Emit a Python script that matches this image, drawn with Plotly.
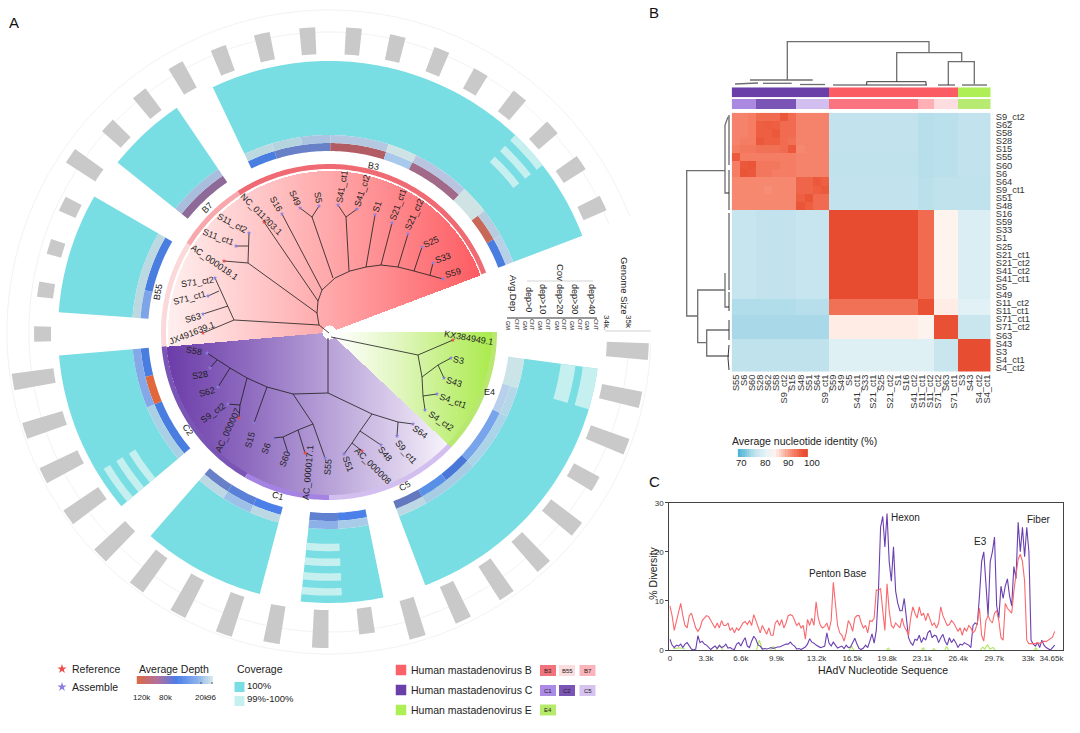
import numpy as np
import plotly.graph_objects as go

FONT = "Liberation Sans"

# ---------- Panel A: sectors ----------
sector_start = [-25.4, -51.3, -85.8, -130.0, -165.2, -191.6, 97.8]
sector_end = [69.2, -34.2, -60.0, -95.0, -138.8, -174.0, 159.2]
depth_colors = [
    ["#4a7de0", "#6880c8", "#6880c8", "#b25c64", "#b25c64", "#a8c8ec", "#a06a88", "#a06a88", "#cfe2e4", "#c86858", "#4a7de0"],
    ["#8e6a98", "#8e6a98"],
    ["#7ea4e8", "#4a7de0", "#4a7de0"],
    ["#4a7de0", "#4a7de0", "#e0683c", "#4a7de0"],
    ["#4a80e8", "#5a80d8", "#6880c8"],
    ["#4a80e8", "#6080d0"],
    ["#cae4e8", "#b8d0ec", "#78a4ec", "#78a4ec", "#4a78d8", "#5890e8", "#6478c0"],
]
cover_colors = [
    ["#bcd8e0", "#b4d4e0", "#aac4e2", "#b4c8e2", "#b4c8e2", "#cfe2e4", "#b8c4e0", "#b8c4e0", "#cfe2e4", "#b8cce0", "#b8d0e8"],
    ["#a8bedc", "#a8bedc"],
    ["#bcd8e0", "#bcd8e0", "#bcd8e0"],
    ["#aad0e6", "#aad0e6", "#84a8e8", "#84a8e8"],
    ["#bcd8e4", "#9cc0e8", "#bcd8e4"],
    ["#a8cce8", "#8cb0e8"],
    ["#cae4e8", "#b4d8e8", "#acd4e8", "#acd4e8", "#a8cce4", "#a8cce4", "#bcd8e4"],
]
# (sector, sample, track) cells below 100 % coverage
partial_sector = [0, 0, 0, 3, 3, 3, 5, 5, 5, 5, 6, 6, 6, 6]
partial_sample = [8, 8, 8, 0, 0, 0, 1, 1, 1, 1, 0, 0, 0, 0]
partial_track = [5, 7, 9, 4, 6, 8, 2, 4, 6, 8, 5, 6, 8, 9]

genome_theta = [-81.6, -73, -64.3, -55.7, -47, -38.5, -29.9, -21.3, -12.7, -4.1, 4.7, 13.1, 21.8, 30.3, 38.9, 47.5,
                56.1, 64.8, 93.5, 102.3, 111.1, 119.7, 128.5, 137.5, 146, 155, 163.8, 172.8, 181.6, 190.5, 199.2,
                208.2, 217, 225.7, 234.6, 243.3, 252, 261, 269.6]
genome_kb = [33.73, 33.68, 33.82, 34.59, 34.14, 34.23, 34.36, 34.23, 34.27, 34.23, 34.23, 34.18, 34.18, 34.05, 34.18,
             34.14, 34.18, 34.14, 34.91, 34.86, 34.86, 34.32, 34.77, 34.82, 34.82, 34.82, 34.82, 34.18, 34.73, 34.73,
             34.91, 34.91, 34.91, 34.91, 34.91, 34.91, 34.91, 34.91, 33.77]

band_start = [-97, -58, -33, -150, -180, -227, 90]
band_end = [-58, -33, 69.3, -95, -150, -180, 133.3]
band_color = ["#fbd9da", "#f8a8ad", "#ef6a72", "#7b55b5", "#a583e2", "#d2bff0", "#b8e870"]

# ---------- Panel A: tree ----------
tree_red = [
    [(329, 333), (319, 325), (317, 313), (318, 301), (322, 290), (335, 278), (350, 271), (366, 267), (381, 265), (398, 267), (414, 271), (430, 275), (443, 279)],
    [(333, 278), (312, 217), (300, 208)], [(312, 217), (319, 206)],
    [(322, 290), (282, 214)], [(318, 301), (264, 222)],
    [(317, 313), (248, 263), (249, 233)], [(248, 246), (236, 246)], [(248, 263), (224, 261)],
    [(319, 325), (234, 320), (203, 333)], [(234, 320), (215, 278)], [(228, 306), (203, 314)], [(219, 291), (208, 296)],
    [(349, 271), (346, 217), (338, 205)], [(346, 217), (357, 209)],
    [(366, 267), (375, 215)], [(381, 265), (392, 223)], [(398, 267), (408, 234)], [(414, 271), (422, 247)], [(430, 275), (433, 263)],
]
tree_purple = [
    [(328, 338), (328, 393)],
    [(328, 393), (293, 394), (267, 387), (247, 378), (230, 368), (217, 360), (207, 353)],
    [(217, 360), (210, 368)], [(230, 368), (218, 387)],
    [(247, 378), (240, 405), (239, 418)], [(240, 405), (228, 404)], [(267, 387), (254, 423)],
    [(293, 394), (313, 424), (325, 458)],
    [(313, 424), (298, 430), (283, 437), (273, 438)], [(283, 437), (288, 453)], [(298, 430), (305, 453)],
    [(328, 393), (372, 414), (398, 422), (413, 424)], [(398, 422), (397, 436)],
    [(372, 414), (360, 431), (381, 445)], [(360, 431), (352, 443), (362, 451)], [(352, 443), (344, 454)],
]
tree_green = [
    [(331, 337), (418, 355), (453, 340)],
    [(418, 355), (422, 377), (438, 365), (451, 358)], [(438, 365), (444, 378)],
    [(422, 377), (423, 396), (437, 394)], [(423, 396), (425, 410)],
]
assemble_x = [300, 319, 282, 236, 249, 208, 215, 203, 338, 357, 375, 392, 408, 422, 433, 443, 207, 210, 218, 228, 254, 273, 288, 325, 413, 397, 381, 344, 451, 444, 437, 425]
assemble_y = [208, 206, 214, 246, 233, 296, 278, 314, 205, 209, 215, 223, 234, 247, 263, 279, 353, 368, 387, 404, 423, 438, 453, 458, 424, 436, 445, 454, 358, 378, 394, 410]
reference_x = [264, 224, 203, 239, 305, 362, 453]
reference_y = [222, 261, 333, 418, 453, 451, 340]

tip_labels = ["NC_011203.1", "S16", "S49", "S5", "S41_ct1", "S41_ct2", "S1", "S21_ct1", "S21_ct2", "S25", "S33", "S59",
              "S11_ct2", "S11_ct1", "AC_000018.1", "S71_ct2", "S71_ct1", "S63", "JX491639.1", "S58", "S28", "S62", "S9_ct2",
              "AC_000007", "S15", "S6", "S60", "AC_000017.1", "S55", "S51", "AC_000008", "S48", "S9_ct1", "S64",
              "S4_ct2", "S4_ct1", "S43", "S3", "KX384949.1",
              "B3", "B7", "B55", "C2", "C1", "C5", "E4"]
tip_x = [261, 276, 295, 318, 342, 362, 377, 398, 414, 431, 443, 453, 232, 218, 214, 197, 189, 193, 192, 194, 200, 207, 213,
         228, 250, 266, 285, 308, 328, 348, 373, 385, 406, 420, 441, 453, 454, 458, 469, 373, 207, 158, 188, 278, 405, 489]
tip_y = [214, 204, 198, 197, 187, 191, 207, 205, 215, 242, 258, 273, 223, 237, 262, 282, 298, 318, 333, 351, 375, 392, 413,
         430, 440, 449, 459, 473, 467, 464, 466, 454, 452, 432, 421, 401, 382, 360, 338, 166, 208, 292, 430, 496, 486, 392]
tip_angle = [45, 60, 65, 80, -80, -72, -72, -70, -65, -25, -20, -15, 28, 20, 35, -8, -15, -15, -22, 10, -10, -15, -35,
             -65, -75, -70, -70, -85, -85, 70, 45, 50, 50, 35, 35, 20, 18, 10, 10, 10, -45, -80, 55, 15, -30, 0]

# ---------- Panel B ----------
row_labels = ["S9_ct2", "S62", "S58", "S28", "S15", "S55", "S60", "S6", "S64", "S9_ct1", "S51", "S48", "S16", "S59", "S33", "S1",
              "S25", "S21_ct1", "S21_ct2", "S41_ct2", "S41_ct1", "S5", "S49", "S11_ct2", "S11_ct1", "S71_ct1", "S71_ct2", "S63",
              "S43", "S3", "S4_ct1", "S4_ct2"]
col_labels = ["S55", "S6", "S60", "S28", "S62", "S58", "S9_ct2", "S15", "S48", "S51", "S64", "S9_ct1", "S59", "S49", "S5", "S41_ct1",
              "S33", "S21_ct1", "S25", "S21_ct2", "S1", "S16", "S41_ct2", "S11_ct1", "S11_ct2", "S71_ct2", "S63", "S71_ct1",
              "S3", "S43", "S4_ct2", "S4_ct1"]
row_group_sizes = [5, 3, 4, 11, 2, 3, 4]
col_group_sizes = [3, 5, 4, 11, 2, 3, 4]
ani_blocks = [
    [94, 96.5, 94, 77, 76.3, 76.5, 77],
    [94.5, 95, 94, 76.8, 76.3, 76.5, 77],
    [93.5, 93.5, 97, 77, 76.5, 76.8, 76.8],
    [77.5, 77, 77.5, 99.7, 96, 86, 80.5],
    [76, 76, 76.3, 95.5, 99, 86.5, 81.5],
    [75.5, 75.5, 75.5, 86.5, 85.5, 99, 78],
    [76.8, 76.8, 76.8, 81, 81, 78, 99.5],
]
ani_hadv_c = [
    [94, 94, 94.5, 96, 96, 96, 98, 96, 94, 94, 94, 94],
    [94, 94, 94.5, 97, 97.5, 97, 96, 96, 94, 94, 94, 94],
    [94, 94, 94.5, 97, 97, 98, 96, 96, 94, 94, 94, 94],
    [94, 94.5, 94.5, 98, 97, 97, 96, 95.5, 94, 94, 94, 94],
    [94.5, 95, 95, 95.5, 95.5, 95.5, 96, 98, 93.5, 94, 94, 94],
    [98, 94.5, 94.5, 94.5, 94.5, 94.5, 94.5, 94.5, 94, 94, 94, 94],
    [94.5, 98, 98.5, 95, 95, 95, 94.5, 94.5, 94, 94, 94, 94],
    [94.5, 98.5, 98, 95, 95, 94.5, 94.5, 94.5, 94, 94, 94, 94],
    [93.5, 93.5, 93.5, 93.5, 93.5, 93.5, 93.5, 93.5, 96.5, 96.5, 98, 97],
    [93.5, 93.5, 93.5, 93.5, 93, 93.5, 93.5, 93.5, 96.5, 96.5, 97, 98],
    [93.5, 93.5, 93.5, 93.5, 93.5, 93.5, 93.5, 93.5, 97, 98.5, 96, 96],
    [93.5, 93.5, 93.5, 93.5, 93.5, 93.5, 93.5, 93.5, 98.5, 97, 96, 96],
]
strip_top_groups = [0] * 12 + [1] * 16 + [2] * 4
strip_top_colors = ["#6a3fa8", "#fb5b62", "#aeef55"]
strip_sub_groups = [0] * 3 + [1] * 5 + [2] * 4 + [3] * 11 + [4] * 2 + [5] * 3 + [6] * 4
strip_sub_colors = ["#a98ae0", "#7b55b5", "#d2bff0", "#f9747e", "#feb0b5", "#fddde0", "#b6ea70"]
ani_scale = [[0, "#4cb5d6"], [7 / 30, "#c2e3ed"], [12 / 30, "#e6f3f7"], [16 / 30, "#fff3ee"],
             [22 / 30, "#f99a84"], [27 / 30, "#ee5f42"], [1, "#e64a2e"]]
dendro_heavy = [
    [(787.3, 80), (787.3, 41.7), (929, 41.7), (929, 52.7)],
    [(896.7, 81.7), (896.7, 52.7), (961.7, 52.7), (961.7, 61.7)],
    [(948.3, 85), (948.3, 61.7), (974.3, 61.7), (974.3, 84.3)],
    [(725, 170.7), (686.7, 170.7), (686.7, 316), (697.7, 316)],
    [(725, 290), (697.7, 290), (697.7, 342.7), (706.7, 342.7)],
    [(729, 330), (706.7, 330), (706.7, 356), (729, 356)],
    [(728, 117), (725, 125), (725, 193), (729, 193)],
    [(725, 273), (725, 307), (729, 307)],
    [(750, 80), (812.7, 80)], [(735, 84), (758, 83)], [(763, 83.3), (791.7, 83.3)], [(800, 84.5), (825, 84.5)],
]
dendro_fine = [
    [(833, 85), (927, 85)], [(866.7, 85), (866.7, 81.7), (926, 81.7), (926, 85)], [(938, 85), (955, 85)], [(962, 85), (987, 85)],
    [(729, 115), (729, 165)], [(729, 170), (729, 210)], [(729, 213), (729, 290)], [(729, 292), (729, 311)],
    [(729, 320), (729, 340)], [(729, 345), (728, 358), (729, 370)],
]

# ---------- Panel C ----------
red_series = [9, 7, 4, 6, 8, 9.5, 7, 5, 4.5, 7, 7.5, 6, 4.5, 3.8, 4.5, 6,
              6.5, 7, 6.8, 6, 5, 4.5, 5.5, 4.5, 6, 5, 5, 5.5, 4, 4.5, 3.5, 4.5,
              4, 4.8, 5.5, 5.8, 5.2, 6, 5, 7.2, 6, 4.5, 3.5, 5, 4, 3.2, 4.5, 3,
              3, 5.5, 6, 5, 6.2, 4.5, 5.5, 7, 7.2, 7, 6, 5, 5.5, 4.5, 5, 2.2,
              6.2, 5, 6.5, 5, 9.8, 6.5, 5, 4.5, 4.8, 5.5, 4, 6, 13.8, 9, 5, 3.5,
              3, 1.8, 3.5, 6, 5.2, 3.8, 6.5, 7, 7, 5.5, 4.5, 5, 3.5, 6, 5.8, 6.5,
              12.2, 12.2, 12.5, 8, 4, 13.5, 8, 5, 4.5, 5.5, 5, 4.5, 6.5, 4.8, 4, 3,
              6.5, 8.8, 7.5, 6.5, 8.8, 7, 7.5, 6, 7.5, 6, 5, 5.5, 4.5, 5.5, 8.8, 7,
              5.8, 5, 5.2, 6, 5.5, 4.5, 3.8, 4.5, 3, 4.5, 3.8, 5, 4.5, 3.5, 4, 5.5,
              8.5, 3, 1.8, 6, 7, 6, 5.5, 7.5, 8, 6, 2.5, 2, 9.5, 8.5, 8, 7.5,
              12, 15, 18.5, 19.5, 18, 14, 2, 1.3, 1.3, 1.4, 1.3, 1.5, 1.3, 1.6, 1.8, 1.7, 2, 2.2, 2.6, 3.8]
purple_series = [2.2, 1, 0.5, 1, 0.8, 1.2, 0.5, 1.2, 1.5, 0.8, 0.2, 0, 0.2, 2.9, 1.5, 1.8,
                 1.2, 1, 0.5, 0.1, 0.5, 0.8, 0.3, 1, 0.5, 0.7, 1.2, 0.4, 0.5, 0.2, 0.1, 1.2,
                 1.5, 0.8, 1.8, 2.5, 0.8, 0.5, 1.8, 2.8, 2.2, 1, 0.8, 0.2, 0.3, 0.2, 0.3, 0.5,
                 0.3, 0.5, 0.6, 0.6, 0.8, 1, 1.2, 1.2, 1.6, 1.1, 0.8, 0.2, 0.3, 0.1, 0.3, 0.6,
                 1.2, 2.3, 1.6, 1.4, 1, 0.8, 0.5, 0.6, 0.8, 3.5, 1.4, 0.8, 1.6, 1, 0.4, 0.6,
                 0.8, 0.3, 1, 0.5, 0.6, 1.5, 2.4, 1.2, 0.3, 0.1, 0.4, 1, 0.5, 1.8, 3.3, 1.4,
                 4, 12, 25, 27.2, 21, 27.8, 18, 14, 21, 12, 9.5, 8, 8, 10.5, 6, 2.5,
                 1.5, 1, 2.2, 2, 3, 1.5, 2.5, 2, 3.5, 4, 2.5, 3, 2.8, 1.5, 2.5, 3.2,
                 1.8, 1, 2.5, 1.5, 2.2, 1.5, 0.5, 1.2, 1, 1.5, 1.2, 1, 0.5, 5, 5.5, 5.2,
                 11, 18, 20, 14, 7, 18, 20, 23, 9, 6.5, 13, 10.5, 13, 14.5, 11, 9,
                 17, 14.5, 26, 20, 25, 19, 25, 20, 2, 1.2, 0.8, 1.5, 0.5, 2, 1, 0.5, 0.2, 0, 0.5, 1]
series_step_kb = 0.2
green_kb = [0.31, 0.93, 1.4, None, 4.28, 4.65, 4.96, None, 8.06, 8.31, 8.62, None, 9.36, 9.61, 9.86, None, 16.68, 16.9, 17.12, None,
            20.15, 20.31, 20.47, None, 23.41, 23.57, 23.72, None, 24.43, 24.56, 24.68, None, 25.58, 25.74, 25.92, None,
            28.9, 29.09, 29.3, 29.55, 29.77, 30.08, 30.26, None, 33.89, 34.05, 34.2]
green_pct = [0.3, 0.45, 0.2, None, 0, 0.9, 0, None, 0, 2, 0, None, 0, 0.7, 0, None, 0, 0.7, 0, None,
             0, 0.4, 0, None, 0, 0.4, 0, None, 0, 0.3, 0, None, 0, 0.7, 0, None,
             0, 0.6, 0.2, 1.1, 0.2, 0.5, 0, None, 0, 0.4, 0]
x_tick_pos = [0, 3.35, 6.6, 9.92, 13.64, 16.96, 20.2, 23.47, 26.82, 30.17, 33.33, 35.5]
x_tick_text = ["0", "3.3k", "6.6k", "9.9k", "13.2k", "16.5k", "19.8k", "23.1k", "26.4k", "29.7k", "33k", "34.65k"]

# ---------- geometry of the page ----------
W, H = 1080, 733
CX, CY, RMAX = 329, 332, 329
CYAN, PALE = "#79dee3", "#c6f0f0"
R_DEPTH, R_COVER, R_TRACK, R_OUT = 181, 189, 197, 271
TRACK = (R_OUT - R_TRACK) / 10


def flatten(polylines):
    xs, ys = [], []
    for line in polylines:
        xs += [p[0] for p in line] + [None]
        ys += [p[1] for p in line] + [None]
    return xs, ys


def add_cells(fig, cells):
    """cells: list of (theta0, theta1, r0, r1, colour); one polar filled trace per colour"""
    groups = {}
    for t0, t1, r0, r1, c in cells:
        groups.setdefault(c, []).append((t0, t1, r0, r1))
    for c, items in groups.items():
        th, rr_ = [], []
        for t0, t1, r0, r1 in items:
            n = max(2, int(abs(t1 - t0)) + 2)
            arc_t = np.linspace(t0, t1, n).tolist()
            th += arc_t + arc_t[::-1] + [t0, None]
            rr_ += [r1] * n + [r0] * n + [r1, None]
        fig.add_trace(go.Scatterpolar(theta=th, r=rr_, mode="lines", line=dict(width=0, color=c), fill="toself", fillcolor=c,
                                      subplot="polar", hoverinfo="skip", showlegend=False))


fig = go.Figure()

# overlay axis in picture units: fan gradients, tree, labels, legends
gx = np.arange(CX - 172, CX + 173)
gy = np.arange(CY - 172, CY + 173)
mx, my = np.meshgrid(gx, gy)
rr = np.hypot(mx - CX, my - CY)
tt = np.degrees(np.arctan2(mx - CX, CY - my)) % 360
fans = [
    (((tt >= 265) | (tt <= 69.3)) & (rr <= 161.5) & (rr > 7), [[0, "#fff0f0"], [0.52, "#ffa8aa"], [1, "#fd5c62"]], 165, 480),
    ((tt > 133.3) & (tt < 265) & (rr <= 163.5) & (rr > 7), [[0, "#6a3aa8"], [0.3, "#8f6cc0"], [0.58, "#b8a2d8"], [0.82, "#dccfec"], [1, "#f9f6fc"]], 163, 450),
    ((tt >= 90) & (tt <= 133.3) & (rr <= 163.5) & (rr > 7), [[0, "#ffffff"], [0.4, "#e0f6be"], [1, "#a8ea48"]], 335, 495),
]
for mask, scale, lo, hi in fans:
    z = np.where(mask, mx.astype(float), np.nan)
    fig.add_trace(go.Heatmap(x=gx, y=gy, z=z.tolist(), colorscale=scale, zmin=lo, zmax=hi, showscale=False,
                             hoverinfo="skip", xaxis="x", yaxis="y"))

for polylines, w in [(tree_red, 0.8), (tree_purple, 0.8), (tree_green, 0.8)]:
    xs, ys = flatten(polylines)
    fig.add_trace(go.Scatter(x=xs, y=ys, mode="lines", line=dict(color="#1c1c1c", width=w), hoverinfo="skip", showlegend=False))
fig.add_trace(go.Scatter(x=assemble_x, y=assemble_y, mode="markers", marker=dict(symbol="star", size=3.5, color="#8a7fe0"), showlegend=False))
fig.add_trace(go.Scatter(x=reference_x, y=reference_y, mode="markers", marker=dict(symbol="star", size=3.5, color="#ee4a4a"), showlegend=False))

# rings in polar axes, radius units are picture pixels
polar_kw = dict(subplot="polar", hoverinfo="skip", showlegend=False)
arc = np.linspace(92, 429, 240)
for r in (300, 322):
    fig.add_trace(go.Scatterpolar(r=[r] * len(arc), theta=arc, mode="lines", line=dict(color="#efefef", width=0.8), **polar_kw))

cells = []
for s, (a, b) in enumerate(zip(sector_start, sector_end)):
    cells.append((a, b, R_TRACK, R_OUT, CYAN))
for s, i, t in zip(partial_sector, partial_sample, partial_track):
    w = (sector_end[s] - sector_start[s]) / len(depth_colors[s])
    a = sector_start[s] + i * w
    cells.append((a, a + w, R_TRACK + t * TRACK, R_TRACK + (t + 1) * TRACK, PALE))
add_cells(fig, cells)

ring_cells = []
for s, (a, b) in enumerate(zip(sector_start, sector_end)):
    n = len(depth_colors[s])
    w = (b - a) / n
    for i in range(n):
        ring_cells.append((a + i * w, a + (i + 1) * w, R_DEPTH, R_COVER, depth_colors[s][i]))
        ring_cells.append((a + i * w, a + (i + 1) * w, R_COVER, R_TRACK, cover_colors[s][i]))
add_cells(fig, ring_cells)
add_cells(fig, [(a, b, 163, 168, c) for a, b, c in zip(band_start, band_end, band_color)])
add_cells(fig, [(t - 1.5, t + 1.5, 278, 300 + 22 * (k - 34), "#c9c9c9") for t, k in zip(genome_theta, genome_kb)])

# heatmap B
rg = [i for i, n in enumerate(row_group_sizes) for _ in range(n)]
cg = [i for i, n in enumerate(col_group_sizes) for _ in range(n)]
ani = [[ani_blocks[rg[r]][cg[c]] for c in range(32)] for r in range(32)]
for r in range(12):
    for c in range(12):
        ani[r][c] = ani_hadv_c[r][c]
fig.add_trace(go.Heatmap(z=ani, x=list(range(32)), y=list(range(32)), colorscale=ani_scale, zmin=70, zmax=100,
                         showscale=False, xaxis="x2", yaxis="y2", hovertemplate="%{z}<extra></extra>"))


def step_scale(colors):
    n = len(colors)
    out = []
    for i, c in enumerate(colors):
        out += [[i / n, c], [(i + 1) / n, c]]
    return out


fig.add_trace(go.Heatmap(z=[strip_top_groups], x=list(range(32)), y=[0], colorscale=step_scale(strip_top_colors), zmin=-0.5,
                         zmax=len(strip_top_colors) - 0.5, showscale=False, xaxis="x2", yaxis="y4", hoverinfo="skip"))
fig.add_trace(go.Heatmap(z=[strip_sub_groups], x=list(range(32)), y=[0], colorscale=step_scale(strip_sub_colors), zmin=-0.5,
                         zmax=len(strip_sub_colors) - 0.5, showscale=False, xaxis="x2", yaxis="y5", hoverinfo="skip"))
xs, ys = flatten(dendro_heavy)
fig.add_trace(go.Scatter(x=xs, y=ys, mode="lines", line=dict(color="#6e6e6e", width=1.3), hoverinfo="skip", showlegend=False))
xs, ys = flatten(dendro_fine)
fig.add_trace(go.Scatter(x=xs, y=ys, mode="lines", line=dict(color="#222222", width=0.9), hoverinfo="skip", showlegend=False))

# ANI colour bar
ani_ticks = [70 + i for i in range(31)]
fig.add_trace(go.Heatmap(z=[ani_ticks], x0=739, dx=68 / 30, y0=453, dy=8, colorscale=ani_scale, zmin=70, zmax=100,
                         showscale=False, hoverinfo="skip", xaxis="x", yaxis="y"))

# panel C
kb = [i * series_step_kb for i in range(len(red_series))]
fig.add_trace(go.Scatter(x=green_kb, y=green_pct, mode="lines", line=dict(color="#b6e86a", width=1.2), xaxis="x3", yaxis="y3", showlegend=False, hoverinfo="skip", connectgaps=False))
fig.add_trace(go.Scatter(x=kb, y=purple_series, mode="lines", line=dict(color="#6a3fb0", width=1.1), xaxis="x3", yaxis="y3", showlegend=False))
fig.add_trace(go.Scatter(x=kb, y=red_series, mode="lines", line=dict(color="#f8696e", width=1.1), xaxis="x3", yaxis="y3", showlegend=False))

# legends drawn on the overlay
depth_levels = [i / 30 for i in range(31)]
fig.add_trace(go.Heatmap(z=[depth_levels], x0=138, dx=74 / 30, y0=680, dy=8, zmin=0, zmax=1, showscale=False, hoverinfo="skip",
                         colorscale=[[0, "#d96a4a"], [0.28, "#b070a0"], [0.52, "#4a7de8"], [0.8, "#8ab0ec"], [1, "#cfe4ea"]]))
fig.add_trace(go.Scatter(x=[201, 201, None, 212, 212], y=[682, 684, None, 682, 684], mode="lines", line=dict(color="#222", width=0.7), hoverinfo="skip", showlegend=False))
fig.add_trace(go.Scatter(x=[62], y=[669], mode="markers", marker=dict(symbol="star", size=7, color="#ee4a4a"), showlegend=False, hoverinfo="skip"))
fig.add_trace(go.Scatter(x=[62], y=[687], mode="markers", marker=dict(symbol="star", size=7, color="#8a7fe0"), showlegend=False, hoverinfo="skip"))
fig.add_trace(go.Scatter(x=[239.5, 239.5], y=[687, 701], mode="markers", marker=dict(symbol="square", size=10, color=[CYAN, PALE]), showlegend=False, hoverinfo="skip"))
fig.add_trace(go.Scatter(x=[401, 401, 401], y=[670, 690, 710], mode="markers", marker=dict(symbol="square", size=10.5, color=["#fb6268", "#6a3fa8", "#aeef55"]), showlegend=False, hoverinfo="skip"))
chip_x = [548, 567, 587.5, 548, 567, 587.5, 548]
chip_y = [670.5, 670.5, 670.5, 690.5, 690.5, 690.5, 710]
chip_text = ["B3", "B55", "B7", "C1", "C2", "C5", "E4"]
chip_color = ["#f2737c", "#fbdde0", "#fbb4ba", "#ab8be6", "#7a55b5", "#d6c3f0", "#b6ea6a"]
for x0, y0, c in zip(chip_x, chip_y, chip_color):
    fig.add_trace(go.Scatter(x=[x0 - 8, x0 + 8], y=[y0, y0], mode="lines", line=dict(color=c, width=11), showlegend=False, hoverinfo="skip"))
# genome-size axis and table rules
fig.add_trace(go.Scatter(x=[605, 651, None, 527, 593], y=[331, 331, None, 281, 281], mode="lines", line=dict(color="#c8c8c8", width=0.8), showlegend=False, hoverinfo="skip"))
fig.add_trace(go.Scatter(x=[507, 597], y=[318, 318], mode="lines", line=dict(color="#333333", width=1), showlegend=False, hoverinfo="skip"))

ann = []


def note(text, x, y, size=9, angle=0, anchor="center", color="#222222", xref="x", yref="y"):
    ann.append(dict(text=text, x=x, y=y, xref=xref, yref=yref, showarrow=False, textangle=angle, xanchor=anchor, yanchor="middle",
                    font=dict(family=FONT, size=size, color=color)))


for t, x, y, a in zip(tip_labels, tip_x, tip_y, tip_angle):
    note(t, x, y, 9, a)

note("A", 14, 22, 15, color="#111111")
note("B", 654, 12, 15, color="#111111")
note("C", 654, 481, 15, color="#111111")
note("Avg.Dep", 514, 293, 9.5, 90)
note("Cov", 561, 272, 9.5, 90)
for t, x in zip(["dep>0", "dep>10", "dep>20", "dep>30", "dep>40"], [529, 543, 560, 575, 592]):
    note(t, x, 299, 9, 90)
note("Genome Size", 625, 286, 9.5, 90)
note("34k.", 607, 322, 8, 90)
note("35k", 629, 322, 8, 90)
table_x = [508, 517, 525, 532, 540, 548, 557, 564, 572, 580, 587, 596]
table_t = ["GM", "CNT"] * 6
for t, x in zip(table_t, table_x):
    note(t, x, 325, 5.5, 90)
note("Reference", 70, 669, 10.5, anchor="left")
note("Assemble", 70, 687, 10.5, anchor="left")
note("Average Depth", 137, 669, 10.5, anchor="left")
note("Coverage", 235, 669, 10.5, anchor="left")
note("100%", 245, 685, 9.5, anchor="left")
note("99%-100%", 245, 698, 9.5, anchor="left")
for t, x in zip(["120k", "80k", "20k", "96"], [141.6, 165.6, 201.5, 211.6]):
    note(t, x, 697, 8)
for t, y in zip(["Human mastadenovirus B", "Human mastadenovirus C", "Human mastadenovirus E"], [670, 690, 710]):
    note(t, 409, y, 10.5, anchor="left")
for t, x, y in zip(chip_text, chip_x, chip_y):
    note(t, x, y, 6)
note("Average nucleotide identity (%)", 730, 441, 10.5, anchor="left")
for t, x in zip(["70", "80", "90", "100"], [741.7, 765, 788, 812]):
    note(t, x, 462, 9.5)
note("Penton Base", 838, 573, 10)
note("Hexon", 905.7, 517, 10)
note("E3", 980.7, 541, 10)
note("Fiber", 1038, 519, 10)
note("% Diversity", 652.7, 573, 10.5, -90)
note("HAdV Nucleotide Sequence", 883, 670, 10.5)


def dx(px0, px1):
    return [px0 / W, px1 / W]


def dy(py_top, py_bot):
    return [1 - py_bot / H, 1 - py_top / H]


fig.update_layout(
    width=W, height=H, autosize=False, margin=dict(l=0, r=0, t=0, b=0), paper_bgcolor="white", plot_bgcolor="rgba(0,0,0,0)",
    showlegend=False, annotations=ann,
    font=dict(family=FONT, size=9, color="#222222"),
    xaxis=dict(domain=[0, 1], range=[0, W], visible=False, fixedrange=True),
    yaxis=dict(domain=[0, 1], range=[H, 0], visible=False, fixedrange=True),
    polar=dict(domain=dict(x=dx(CX - RMAX, CX + RMAX), y=dy(CY - RMAX, CY + RMAX)), bgcolor="rgba(0,0,0,0)",
               radialaxis=dict(visible=False, range=[0, RMAX]),
               angularaxis=dict(visible=False, direction="clockwise", rotation=90, thetaunit="degrees")),
    xaxis2=dict(domain=dx(731.7, 990.7), range=[-0.5, 31.5], tickmode="array", tickvals=list(range(32)), ticktext=col_labels,
                tickangle=-90, ticklen=0, tickfont=dict(size=9.3, color="#333333"), showgrid=False, zeroline=False, showline=False,
                anchor="y2", side="bottom", automargin=False),
    yaxis2=dict(domain=dy(112.7, 371.7), range=[31.5, -0.5], tickmode="array", tickvals=list(range(32)), ticktext=row_labels,
                ticklen=0, tickfont=dict(size=9.3, color="#333333"), showgrid=False, zeroline=False, showline=False,
                ticklabelstandoff=4, anchor="x2", side="right", automargin=False),
    yaxis4=dict(domain=dy(87.3, 97.3), visible=False, anchor="x2", range=[-0.5, 0.5]),
    yaxis5=dict(domain=dy(99, 109), visible=False, anchor="x2", range=[-0.5, 0.5]),
    xaxis3=dict(domain=dx(669.3, 1063.3), range=[-0.06, 36.6], tickmode="array", tickvals=x_tick_pos, ticktext=x_tick_text,
                ticklen=0, tickfont=dict(size=8, color="#333333"), showgrid=False, zeroline=False, showline=True, mirror=True,
                linecolor="#444444", linewidth=1.2, anchor="y3", automargin=False),
    yaxis3=dict(domain=dy(502.7, 650), range=[0, 30], tickmode="array", tickvals=[0, 10, 20, 30], ticklen=3, ticks="outside",
                tickcolor="#444444", tickfont=dict(size=8, color="#333333"), showgrid=False, zeroline=False, showline=True, mirror=True,
                linecolor="#444444", linewidth=1.2, anchor="x3", automargin=False),
)

fig.write_html("out.html", config={"displayModeBar": False},
               post_script="document.body.style.margin='0';document.documentElement.style.overflow='hidden';")
